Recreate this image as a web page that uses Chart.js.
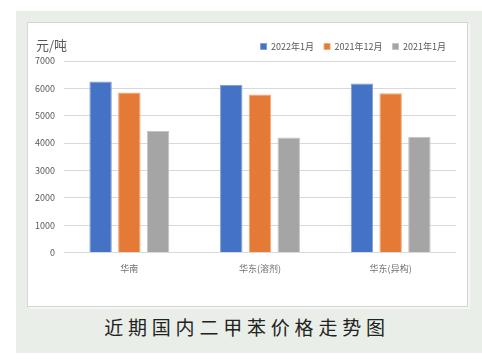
<!DOCTYPE html>
<html><head><meta charset="utf-8">
<script src="https://cdn.jsdelivr.net/npm/chart.js@4"></script>
<style>
body{margin:0;background:#fff;width:482px;height:360px;overflow:hidden;position:relative;font-family:"Noto Sans CJK SC","Noto Sans",sans-serif}
#panel{position:absolute;left:16px;top:11px;width:466px;height:342px;background:#E9EEE8}
#box{position:absolute;left:27px;top:22px;width:439px;height:283px;background:#fff;border:1px solid #d4d6d4;box-shadow:2px 2px 0 #f4f6f4}
#wrap{position:absolute;left:28px;top:23px;width:438px;height:282px}
#unit{position:absolute;left:36px;top:35px;font-size:13px;color:#595959}
#title{position:absolute;left:0;width:482px;top:313px;text-align:center;font-size:19px;letter-spacing:4.8px;color:#222;text-indent:12px}
</style></head>
<body>
<div id="panel"></div>
<div id="box"></div>
<div id="wrap"><canvas id="c" width="438" height="282"></canvas></div>
<div id="unit">元/吨</div>
<div id="title">近期国内二甲苯价格走势图</div>
<script>
const categories = ["华南", "华东(溶剂)", "华东(异构)"];
const seriesNames = ["2022年1月", "2021年12月", "2021年1月"];
const jan2022 = [6250, 6120, 6180];
const dec2021 = [5850, 5780, 5820];
const jan2021 = [4440, 4200, 4230];
const yTicks = [0, 1000, 2000, 3000, 4000, 5000, 6000, 7000];

const colors = ["#4472C4", "#E47A35", "#A5A5A5"];
const borders = ["#7f9fd8", "#f2a877", "#c4c4c4"];
const values = [jan2022, dec2021, jan2021];

new Chart(document.getElementById('c'), {
  type: 'bar',
  data: {
    labels: categories,
    datasets: values.map((v, i) => ({
      label: seriesNames[i],
      data: v,
      backgroundColor: colors[i],
      borderColor: borders[i],
      borderWidth: 1,
      categoryPercentage: 0.66,
      barPercentage: 0.78
    }))
  },
  options: {
    responsive: false,
    animation: false,
    devicePixelRatio: 1,
    layout: { padding: { top: 9, right: 10, left: 0, bottom: 0 } },
    plugins: {
      tooltip: { enabled: false },
      legend: {
        position: 'top',
        align: 'end',
        labels: {
          boxWidth: 6, boxHeight: 6, padding: 10,
          color: '#595959',
          font: { family: '"Noto Sans CJK SC"', size: 9 }
        }
      }
    },
    scales: {
      x: {
        grid: { display: false },
        border: { display: false },
        ticks: { color: '#707070', padding: 3, font: { family: '"Noto Sans CJK SC"', size: 9 } },
        afterFit: s => { s.height = 52.5; }
      },
      y: {
        min: 0, max: 7000,
        afterBuildTicks: s => { s.ticks = yTicks.map(v => ({ value: v })); },
        grid: { color: '#d9d9d9', lineWidth: 1, drawTicks: false },
        border: { display: false },
        ticks: { color: '#595959', padding: 9, font: { family: '"Noto Sans CJK SC"', size: 9 }, callback: v => String(v) },
        afterFit: s => { s.width = 36; }
      }
    }
  }
});
</script>
</body></html>
